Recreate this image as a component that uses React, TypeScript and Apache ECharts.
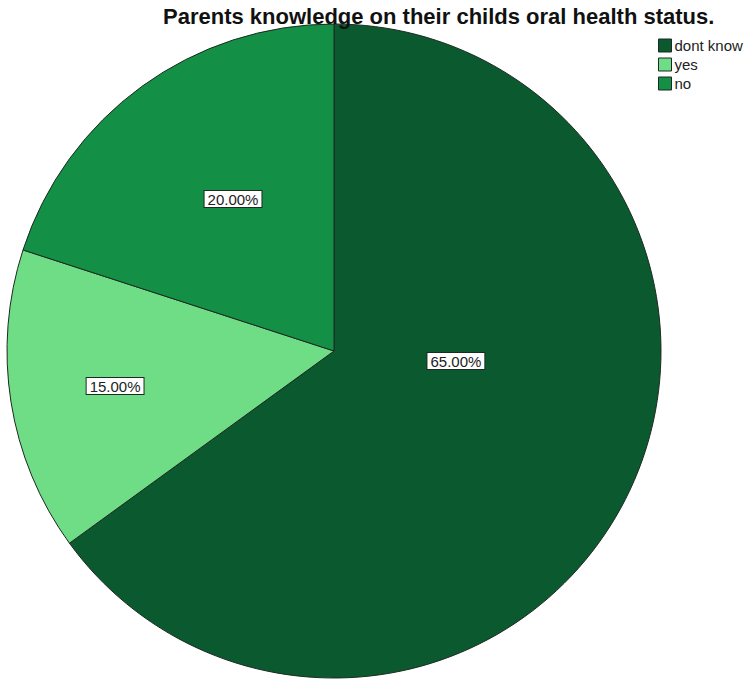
import React, { useEffect, useRef } from "react";
import * as echarts from "echarts";

const titleText = "Parents knowledge on their childs oral health status.";
const categories = ["dont know", "yes", "no"];
const percentages = [65, 15, 20];
const colors = ["#0b5a2f", "#6fdc86", "#138f46"];

// label placement (angle from 12 o'clock clockwise, in degrees; distance as fraction of radius)
const labelAngles = [94.7, 260.9, 326.4];
const labelDists = [0.374, 0.678, 0.558];

const CX = 334;
const CY = 351;
const R = 327;

export default function App() {
  const ref = useRef<HTMLDivElement>(null);
  useEffect(() => {
    if (!ref.current) return;
    const chart = echarts.init(ref.current, undefined, { renderer: "svg" });
    const font = "'Liberation Sans', Arial, sans-serif";
    chart.setOption({
      animation: false,
      backgroundColor: "#ffffff",
      title: {
        text: titleText,
        left: 158,
        top: 0,
        textStyle: { fontFamily: font, fontSize: 22, fontWeight: "bold", color: "#111" },
      },
      legend: {
        orient: "vertical",
        left: 653,
        top: 33,
        itemWidth: 13,
        itemHeight: 13,
        itemGap: 4,
        icon: "rect",
        data: categories,
        textStyle: { fontFamily: font, fontSize: 15, color: "#222", padding: [0, 0, 0, -2] },
        itemStyle: { borderColor: "#1d2a22", borderWidth: 1 },
      },
      series: [
        {
          type: "pie",
          center: [CX, CY],
          radius: R,
          startAngle: 90,
          clockwise: true,
          color: colors,
          itemStyle: { borderColor: "#1d2a22", borderWidth: 1 },
          emphasis: { disabled: true },
          label: {
            show: true,
            position: "inside",
            formatter: (p: any) => p.value.toFixed(2) + "%",
            fontFamily: font,
            fontSize: 15,
            color: "#222",
            backgroundColor: "#ffffff",
            borderColor: "#1d2a22",
            borderWidth: 1,
            padding: [1, 3, 0, 3],
          },
          labelLine: { show: false },
          labelLayout: (params: any) => {
            const i = params.dataIndex;
            const a = (labelAngles[i] * Math.PI) / 180;
            const d = labelDists[i] * R;
            return {
              x: CX + d * Math.sin(a),
              y: CY - d * Math.cos(a),
              align: "center",
              verticalAlign: "middle",
            };
          },
          data: categories.map((c, i) => ({ name: c, value: percentages[i] })),
        },
      ],
    });
    return () => chart.dispose();
  }, []);
  return (
    <div
      ref={ref}
      style={{ position: "absolute", left: 0, top: 0, width: 746, height: 685 }}
    />
  );
}
